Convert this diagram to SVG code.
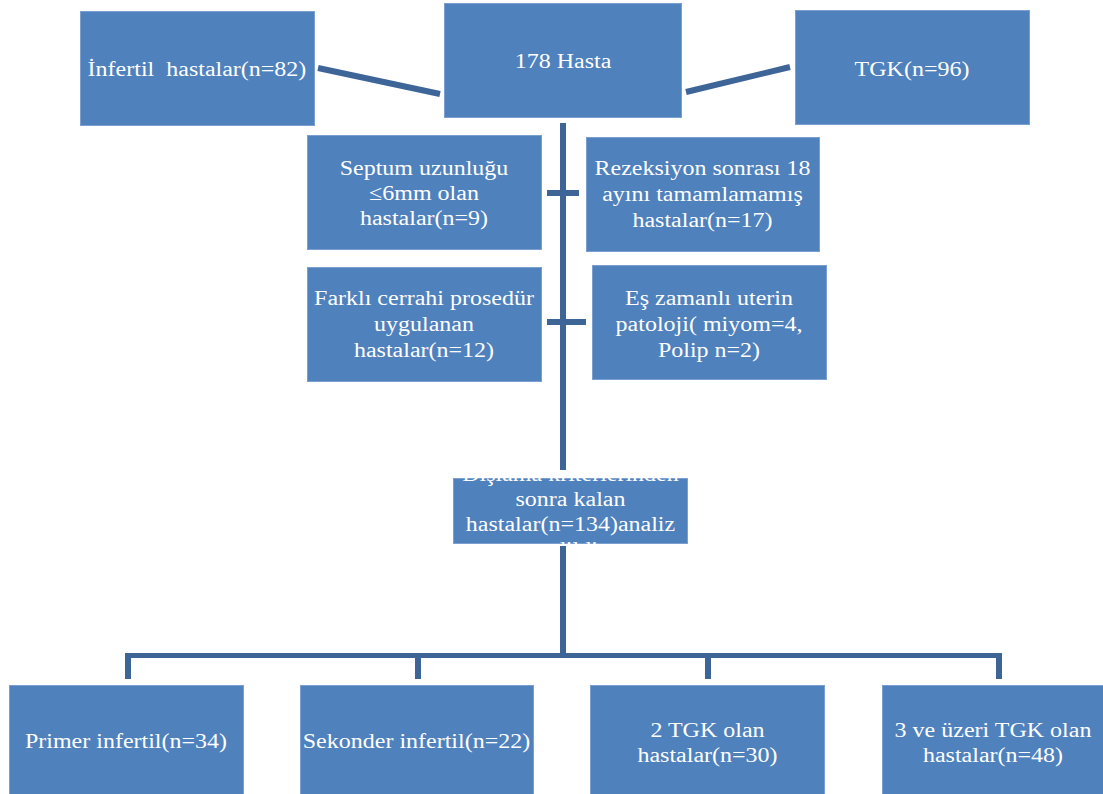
<svg xmlns="http://www.w3.org/2000/svg" width="1103" height="794" viewBox="0 0 1103 794">
<style>
.box{fill:#4F81BD;stroke:#7A9FD0;stroke-width:1}
.ln{stroke:#3D6598;stroke-width:6;fill:none;stroke-linecap:butt}
.t{font-family:'Liberation Serif','DejaVu Serif',serif;font-size:24px;fill:#FFFFFF;text-anchor:middle;white-space:pre;transform:scaleY(0.9)}
</style>
<defs>
<clipPath id="cbox"><rect x="453" y="478" width="235" height="66"/></clipPath>
</defs>
<rect width="1103" height="794" fill="#FFFFFF"/>
<g id="connectors">
<line class="ln" x1="318" y1="68" x2="440" y2="94"/>
<line class="ln" x1="686" y1="92" x2="790" y2="67"/>
<line class="ln" x1="563" y1="123" x2="563" y2="470"/>
<line class="ln" x1="547" y1="193" x2="579" y2="193"/>
<line class="ln" x1="547" y1="322" x2="586" y2="322"/>
<line class="ln" x1="563" y1="546" x2="563" y2="656"/>
<line class="ln" x1="125" y1="655.5" x2="1002" y2="655.5" style="stroke-width:5"/>
<line class="ln" x1="128" y1="655" x2="128" y2="679"/>
<line class="ln" x1="418" y1="655" x2="418" y2="679"/>
<line class="ln" x1="708" y1="655" x2="708" y2="679"/>
<line class="ln" x1="999" y1="655" x2="999" y2="679"/>
</g>
<g id="n-infertil">
<rect class="box" x="80.5" y="11.5" width="234" height="114"/>
<text class="t" font-family="Liberation Serif" x="197" y="84.4">İnfertil  hastalar(n=82)</text>
</g>
<g id="n-hasta">
<rect class="box" x="444.5" y="3.5" width="237" height="114"/>
<text class="t" font-family="Liberation Serif" x="563" y="75.6">178 Hasta</text>
</g>
<g id="n-tgk">
<rect class="box" x="795.5" y="10.5" width="234" height="114"/>
<text class="t" font-family="Liberation Serif" x="912" y="84.4">TGK(n=96)</text>
</g>
<g id="n-septum">
<rect class="box" x="307.5" y="135.5" width="234" height="114"/>
<text class="t" font-family="Liberation Serif" x="424" y="194.4">Septum uzunluğu</text>
<text class="t" font-family="Liberation Serif" x="424" y="222.2">≤6mm olan</text>
<text class="t" font-family="Liberation Serif" x="424" y="250">hastalar(n=9)</text>
</g>
<g id="n-rezeksiyon">
<rect class="box" x="586.5" y="137.5" width="233" height="114"/>
<text class="t" font-family="Liberation Serif" x="702.5" y="194.4">Rezeksiyon sonrası 18</text>
<text class="t" font-family="Liberation Serif" x="702.5" y="223.3">ayını tamamlamamış</text>
<text class="t" font-family="Liberation Serif" x="702.5" y="252.2">hastalar(n=17)</text>
</g>
<g id="n-farkli">
<rect class="box" x="307.5" y="267.5" width="234" height="114"/>
<text class="t" font-family="Liberation Serif" x="424" y="338.9">Farklı cerrahi prosedür</text>
<text class="t" font-family="Liberation Serif" x="424" y="367.8">uygulanan</text>
<text class="t" font-family="Liberation Serif" x="424" y="396.7">hastalar(n=12)</text>
</g>
<g id="n-eszamanli">
<rect class="box" x="592.5" y="265.5" width="234" height="114"/>
<text class="t" font-family="Liberation Serif" x="709" y="338.9">Eş zamanlı uterin</text>
<text class="t" font-family="Liberation Serif" x="709" y="367.8">patoloji( miyom=4,</text>
<text class="t" font-family="Liberation Serif" x="709" y="396.7">Polip n=2)</text>
</g>
<g id="n-kalan">
<rect class="box" x="453.5" y="478.5" width="234" height="65"/>
<g clip-path="url(#cbox)">
<text class="t" font-family="Liberation Serif" x="570.5" y="534.4">Dışlama kriterlerinden</text>
<text class="t" font-family="Liberation Serif" x="570.5" y="562.2">sonra kalan</text>
<text class="t" font-family="Liberation Serif" x="570.5" y="590">hastalar(n=134)analiz</text>
<text class="t" font-family="Liberation Serif" x="570.5" y="617.8">edildi</text>
</g>
</g>
<g id="n-primer">
<rect class="box" x="9.5" y="685.5" width="234" height="110"/>
<text class="t" font-family="Liberation Serif" x="126" y="831.1">Primer infertil(n=34)</text>
</g>
<g id="n-sekonder">
<rect class="box" x="300.5" y="685.5" width="233" height="110"/>
<text class="t" font-family="Liberation Serif" x="416.5" y="831.1">Sekonder infertil(n=22)</text>
</g>
<g id="n-2tgk">
<rect class="box" x="590.5" y="685.5" width="234" height="110"/>
<text class="t" font-family="Liberation Serif" x="707.5" y="818.9">2 TGK olan</text>
<text class="t" font-family="Liberation Serif" x="707.5" y="846.7">hastalar(n=30)</text>
</g>
<g id="n-3tgk">
<rect class="box" x="882.5" y="685.5" width="230" height="110"/>
<text class="t" font-family="Liberation Serif" x="993" y="818.9">3 ve üzeri TGK olan</text>
<text class="t" font-family="Liberation Serif" x="993" y="846.7">hastalar(n=48)</text>
</g>
</svg>
